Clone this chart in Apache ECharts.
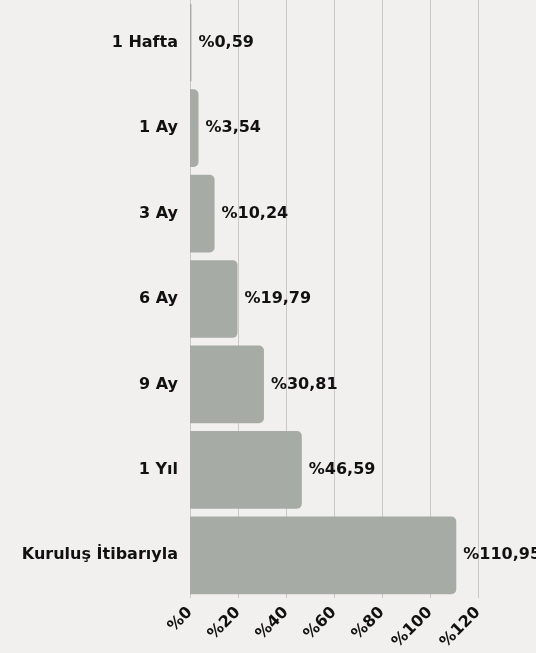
<!DOCTYPE html>
<html>
<head>
<meta charset="utf-8">
<script src="https://cdn.jsdelivr.net/npm/echarts@6/dist/echarts.min.js"></script>
<style>
  html, body { margin: 0; padding: 0; background: #f1f0ee; }
  #main { width: 536px; height: 653px; }
</style>
</head>
<body>
<div id="main"></div>
<script>
var categories = ['1 Hafta', '1 Ay', '3 Ay', '6 Ay', '9 Ay', '1 Yıl', 'Kuruluş İtibarıyla'];
var values = [0.59, 3.54, 10.24, 19.79, 30.81, 46.59, 110.95];
var labels = ['%0,59', '%3,54', '%10,24', '%19,79', '%30,81', '%46,59', '%110,95'];

var myChart = echarts.init(document.getElementById('main'));

var option = {
    backgroundColor: '#f1f0ee',
    textStyle: { fontFamily: 'DejaVu Sans' },
    grid: { left: 190, right: 58, top: -2, bottom: 55 },
    xAxis: {
        type: 'value',
        min: 0,
        max: 120,
        interval: 20,
        axisLine: { show: false },
        axisTick: { show: false },
        splitLine: { lineStyle: { color: '#c9c9c7', width: 1 } },
        axisLabel: {
            rotate: 45,
            margin: 12,
            color: '#111',
            fontWeight: 'bold',
            fontSize: 16,
            formatter: function (v) { return '%' + v; }
        }
    },
    yAxis: {
        type: 'category',
        inverse: true,
        data: categories,
        axisLine: { show: false },
        axisTick: { show: false },
        axisLabel: {
            margin: 12,
            color: '#111',
            fontWeight: 'bold',
            fontSize: 16
        }
    },
    series: [{
        type: 'bar',
        data: values,
        barCategoryGap: '9%',
        itemStyle: {
            color: '#a7aba5',
            borderRadius: [0, 5, 5, 0]
        },
        label: {
            show: true,
            position: 'right',
            distance: 7,
            color: '#111',
            fontWeight: 'bold',
            fontSize: 16,
            formatter: function (p) { return labels[p.dataIndex]; }
        },
        animation: false
    }]
};

myChart.setOption(option);
</script>
</body>
</html>
